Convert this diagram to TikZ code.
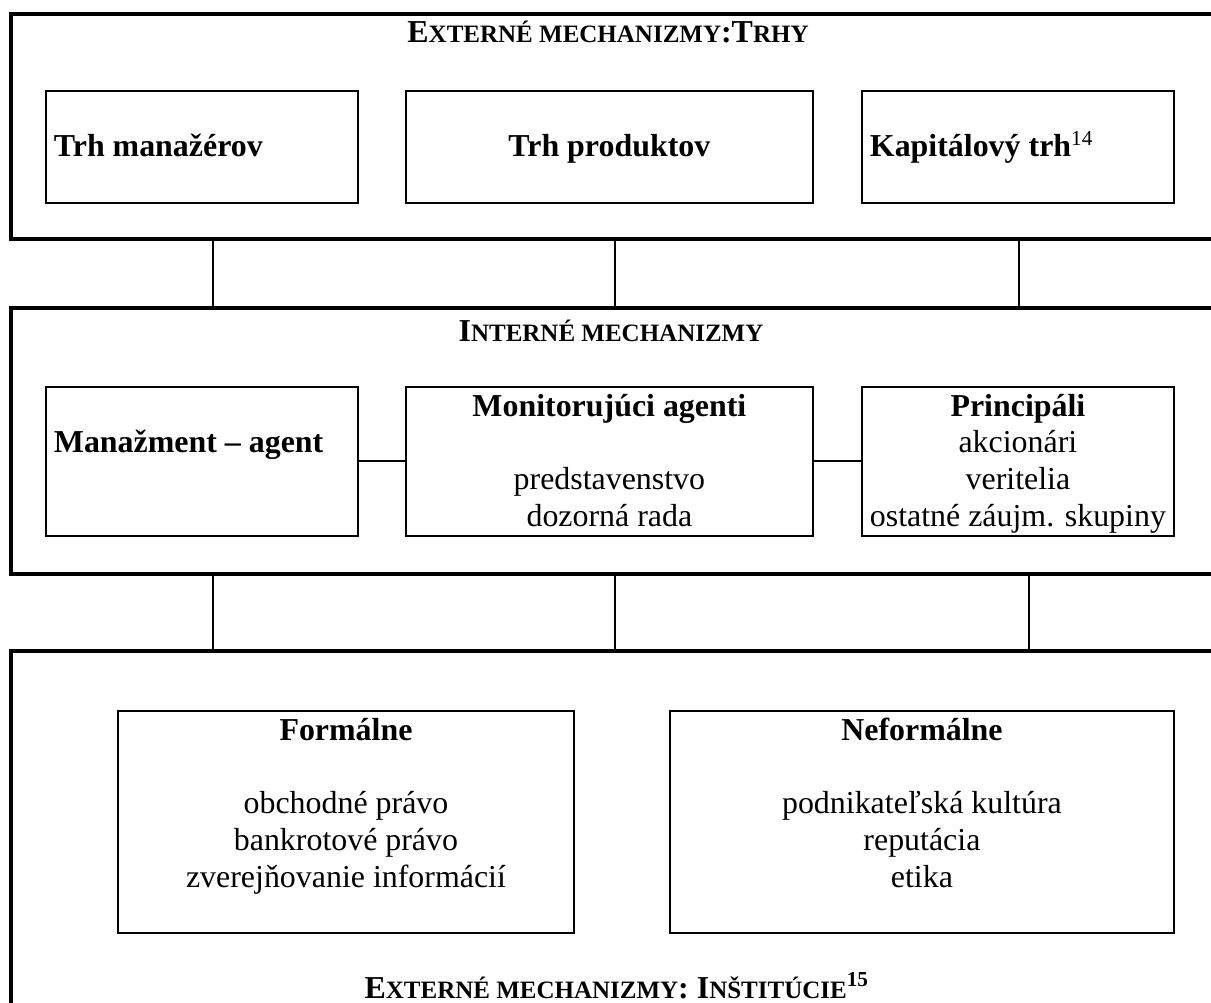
\documentclass[tikz,border=0pt]{standalone}
\usepackage{fontspec}
\setmainfont{Liberation Serif}
\usetikzlibrary{positioning,fit}

\newcommand{\smcap}[1]{{\fontsize{9.4pt}{11pt}\selectfont #1}}
\newcommand{\firstline}{\rule{0pt}{11pt}}
\newcommand{\cell}[3]{\parbox[c][#2][t]{#1}{#3}}

\tikzset{
  frame/.style={draw, line width=1.3pt, inner sep=0pt},
  box/.style={draw, line width=0.7pt, inner xsep=3pt, inner ysep=0pt, anchor=north west},
  title/.style={font=\fontsize{12pt}{13.8pt}\selectfont\bfseries, inner sep=0pt, anchor=base},
  link/.style={line width=1pt},
  thinlink/.style={line width=0.7pt}
}

\begin{document}
\begin{tikzpicture}[x=0.376pt, y=-0.376pt, font=\fontsize{12pt}{13.8pt}\selectfont]
  \useasboundingbox (0,0) rectangle (1211,1002);
  \clip (0,0) rectangle (1211,1002);

  % external mechanisms: markets
  \node[frame, fit={(11,14) (1230,239)}] (trhy) {};
  \node[title] (trhytitle) at (608,43) {E\smcap{XTERNÉ MECHANIZMY}:T\smcap{RHY}};
  \node[box] (manazeri) at (45,90) {\cell{111.3pt}{42.1pt}{\raggedright\firstline\\\textbf{Trh manažérov}}};
  \node[box] (produkty) at (405,90) {\cell{147pt}{42.1pt}{\centering\firstline\\\textbf{Trh produktov}}};
  \node[box] (kapital) at (861,90) {\cell{111.3pt}{42.1pt}{\raggedright\firstline\\\textbf{Kapitálový trh}\textsuperscript{14}}};

  % internal mechanisms
  \node[frame, fit={(11,308) (1230,574)}] (interne) {};
  \node[title] (internetitle) at (611,341) {I\smcap{NTERNÉ MECHANIZMY}};
  \node[box] (agent) at (45,386) {\cell{111.3pt}{56pt}{\raggedright\firstline\\\textbf{Manažment – agent}}};
  \node[box] (monitor) at (405,386) {\cell{147pt}{56pt}{\centering\firstline\textbf{Monitorujúci agenti}\\[\baselineskip]predstavenstvo\\dozorná rada}};
  \node[box] (principal) at (861,386) {\cell{111.3pt}{56pt}{\centering\firstline\textbf{Principáli}\\akcionári\\veritelia\\ostatné záujm. skupiny}};
  \draw[thinlink] (agent.east) -- (monitor.west);
  \draw[thinlink] (monitor.east) -- (principal.west);

  % external mechanisms: institutions
  \node[frame, fit={(11,651) (1230,1030)}] (institucie) {};
  \node[box] (formalne) at (117,710) {\cell{165.5pt}{83.5pt}{\centering\firstline\textbf{Formálne}\\[\baselineskip]obchodné právo\\bankrotové právo\\zverejňovanie informácií}};
  \node[box] (neformalne) at (669,710) {\cell{183.5pt}{83.5pt}{\centering\firstline\textbf{Neformálne}\\[\baselineskip]podnikateľská kultúra\\reputácia\\etika}};
  \node[title] (institucietitle) at (617,998) {E\smcap{XTERNÉ MECHANIZMY}: I\smcap{NŠTITÚCIE}\textsuperscript{15}};

  % links between the levels
  \coordinate (up1) at (213,0);
  \coordinate (up2) at (615,0);
  \coordinate (up3) at (1019,0);
  \coordinate (lo1) at (213,0);
  \coordinate (lo2) at (615,0);
  \coordinate (lo3) at (1029,0);
  \foreach \c in {up1,up2,up3}
    \draw[link] (trhy.south -| \c) -- (interne.north -| \c);
  \foreach \c in {lo1,lo2,lo3}
    \draw[link] (interne.south -| \c) -- (institucie.north -| \c);
\end{tikzpicture}
\end{document}
